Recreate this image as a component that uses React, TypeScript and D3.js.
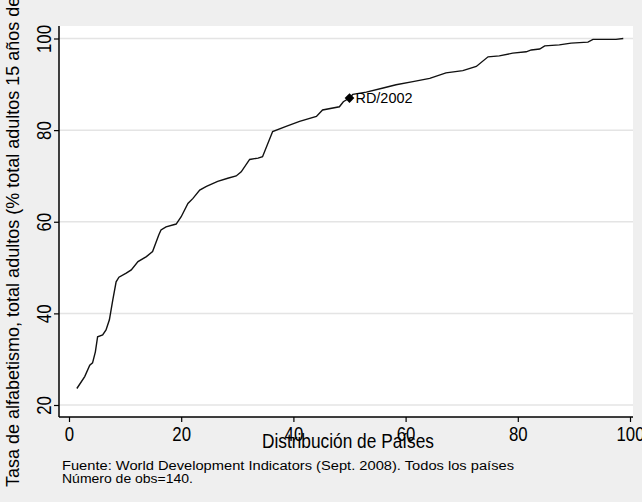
import * as d3 from "d3";
import { useEffect, useRef } from "react";

// distribución acumulada de países (percentil) vs tasa de alfabetismo
const pctPaises = [
  1.4, 2.8, 3.7, 4.2, 4.7, 5.1, 6.0, 6.6, 7.2, 7.8, 8.4, 8.9, 10.2, 11.1, 12.3,
  13.8, 14.9, 16.0, 16.4, 17.3, 19.1, 20.0, 21.2, 22.1, 23.3, 24.5, 26.5, 28.3,
  29.8, 30.7, 32.2, 33.7, 34.5, 36.3, 38.7, 41.1, 44.1, 45.2, 48.2, 48.9, 50.0,
  50.6, 53.0, 56.0, 58.3, 61.3, 64.3, 67.2, 70.2, 72.6, 74.7, 76.7, 79.1, 81.5,
  82.4, 83.9, 84.8, 87.4, 89.5, 92.5, 93.4, 97.5, 98.8,
];
const tasaAlfab = [
  23.6, 26.2, 28.7, 29.2, 31.6, 34.9, 35.3, 36.4, 38.6, 42.9, 46.9, 47.9, 48.8,
  49.5, 51.3, 52.4, 53.5, 57.1, 58.2, 58.9, 59.5, 61.1, 64.0, 65.1, 66.9, 67.7,
  68.8, 69.5, 70.0, 70.9, 73.6, 73.9, 74.2, 79.7, 80.8, 81.9, 83.0, 84.4, 85.1,
  86.2, 87.0, 87.8, 88.3, 89.2, 89.9, 90.6, 91.3, 92.5, 93.0, 93.9, 96.0, 96.2,
  96.8, 97.1, 97.5, 97.7, 98.4, 98.6, 99.0, 99.2, 99.8, 99.8, 100.0,
];
const marcador = { label: "RD/2002", x: 50.0, y: 87.0 };
const xTicks = [0, 20, 40, 60, 80, 100];
const yTicks = [20, 40, 60, 80, 100];

const yTitle =
  "Tasa de alfabetismo, total adultos (% total adultos 15 años de edad y más)";
const xTitle = "Distribución de Países";
const nota1 = "Fuente: World Development Indicators (Sept. 2008). Todos los países";
const nota2 = "Número de obs=140.";

const W = 642;
const H = 502;
const font = "'Liberation Sans', Arial, sans-serif";

export default function App() {
  const ref = useRef<SVGSVGElement>(null);

  useEffect(() => {
    const svg = d3.select(ref.current).html("");
    const x = d3.scaleLinear().domain([0, 100]).range([69, 630]);
    const y = d3.scaleLinear().domain([20, 100]).range([405, 38.5]);
    const left = 59, top = 26, right = 633, bottom = 417;

    svg.append("rect").attr("width", W).attr("height", H).attr("fill", "#efefef");
    svg
      .append("rect")
      .attr("x", left)
      .attr("y", top)
      .attr("width", right - left)
      .attr("height", bottom - top)
      .attr("fill", "#fff");

    // grid
    svg
      .append("g")
      .selectAll("line")
      .data(yTicks)
      .join("line")
      .attr("x1", left)
      .attr("x2", right)
      .attr("y1", (d) => y(d))
      .attr("y2", (d) => y(d))
      .attr("stroke", "#e4e4e4")
      .attr("stroke-width", 1.5);

    // axes
    const gx = svg.append("g").attr("transform", `translate(0,${bottom})`);
    gx.call(d3.axisBottom(x).tickValues(xTicks).tickSize(5).tickPadding(4));
    gx.select(".domain").attr("d", `M${left},0H${right}`).attr("stroke-width", 1.5);
    gx.selectAll(".tick line").attr("stroke-width", 1.2);
    gx.selectAll("text")
      .attr("font-family", font)
      .attr("font-size", 21)
      .attr("fill", "#000")
      .attr("dy", "0.72em")
      .attr("transform", "scale(0.8,1)");

    const gy = svg.append("g").attr("transform", `translate(${left},0)`);
    gy.call(d3.axisLeft(y).tickValues(yTicks).tickSize(5));
    gy.select(".domain").attr("d", `M0,${top}V${bottom}`).attr("stroke-width", 1.5);
    gy.selectAll(".tick line").attr("stroke-width", 1.2);
    gy.selectAll("text")
      .attr("font-family", font)
      .attr("font-size", 21)
      .attr("fill", "#000")
      .attr("text-anchor", "middle")
      .attr("x", 0)
      .attr("dy", 0)
      .attr("transform", "translate(-8,0) rotate(-90) scale(0.8,1)");

    // line
    const pts = pctPaises.map((d, i) => [d, tasaAlfab[i]] as [number, number]);
    svg
      .append("path")
      .datum(pts)
      .attr("fill", "none")
      .attr("stroke", "#111")
      .attr("stroke-width", 1.4)
      .attr("d", d3.line().x((d) => x(d[0])).y((d) => y(d[1])));

    // marker
    svg
      .append("path")
      .attr("d", d3.symbol(d3.symbolDiamond2, 60)())
      .attr("transform", `translate(${x(marcador.x)},${y(marcador.y)})`)
      .attr("fill", "#000");
    svg
      .append("text")
      .attr("x", x(marcador.x) + 6)
      .attr("y", y(marcador.y) + 5)
      .attr("font-family", font)
      .attr("font-size", 14)
      .attr("textLength", 57)
      .attr("lengthAdjust", "spacingAndGlyphs")
      .text(marcador.label);

    // titles
    svg
      .append("text")
      .attr("x", 262)
      .attr("y", 448)
      .attr("font-family", font)
      .attr("font-size", 21)
      .attr("textLength", 172)
      .attr("lengthAdjust", "spacingAndGlyphs")
      .text(xTitle);
    svg
      .append("text")
      .attr("transform", "translate(19,487) rotate(-90)")
      .attr("font-family", font)
      .attr("font-size", 18)
      .text(yTitle);

    svg
      .append("text")
      .attr("x", 62)
      .attr("y", 470)
      .attr("font-family", font)
      .attr("font-size", 12.5)
      .attr("textLength", 452)
      .attr("lengthAdjust", "spacingAndGlyphs")
      .text(nota1);
    svg
      .append("text")
      .attr("x", 62)
      .attr("y", 483)
      .attr("font-family", font)
      .attr("font-size", 12.5)
      .attr("textLength", 131)
      .attr("lengthAdjust", "spacingAndGlyphs")
      .text(nota2);
  }, []);

  return (
    <svg
      ref={ref}
      width={W}
      height={H}
      style={{ position: "absolute", left: 0, top: 0 }}
    />
  );
}
